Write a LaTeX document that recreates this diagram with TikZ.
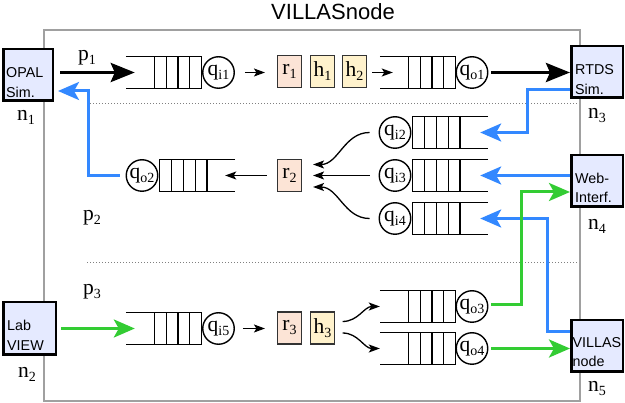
\documentclass[tikz,border=0pt]{standalone}
\usepackage{fontspec}
\setmainfont{Liberation Serif}
\newfontfamily\sansf{Liberation Sans}
\usetikzlibrary{arrows.meta,calc}

\definecolor{vblue}{RGB}{51,136,255}
\definecolor{vgreen}{RGB}{51,204,51}
\definecolor{extfill}{RGB}{229,234,255}
\definecolor{rfill}{RGB}{252,228,214}
\definecolor{hfill}{RGB}{255,242,204}
\definecolor{framegray}{RGB}{160,160,160}

\newcommand\serifbig{\fontsize{21.5}{21.5}\selectfont}
\newcommand\qsub[1]{\raisebox{-4pt}{\fontsize{14}{14}\selectfont #1}}

\newcommand\queueR[1]{%
  \draw[qline] (#1.north west) -- (#1.north east) -- (#1.south east) -- (#1.south west);
  \foreach \k in {1,...,4}
    \draw[qline] ($(#1.north east)+(-\k*11.6,0)$) -- ($(#1.south east)+(-\k*11.6,0)$);
}
\newcommand\queueL[1]{%
  \draw[qline] (#1.north east) -- (#1.north west) -- (#1.south west) -- (#1.south east);
  \foreach \k in {1,...,4}
    \draw[qline] ($(#1.north west)+(\k*11.8,0)$) -- ($(#1.south west)+(\k*11.8,0)$);
}

\tikzset{
  qbox/.style={rectangle,minimum width=75pt,minimum height=31pt,inner sep=0pt},
  qline/.style={line width=1.2pt,black},
  qcirc/.style={circle,draw,line width=1.4pt,minimum size=31.5pt,inner sep=0pt,font=\serifbig},
  rbox/.style={rectangle,draw=black!80,line width=1.1pt,fill=rfill,minimum width=24pt,minimum height=32pt,inner sep=0pt,font=\serifbig},
  hbox/.style={rbox,fill=hfill},
  ext/.style={rectangle,draw=black,line width=2.5pt,fill=extfill,inner sep=0pt},
  exttext/.style={font=\sansf\fontsize{14.3}{19.5}\selectfont,align=left,anchor=west,inner sep=0pt},
  lbl/.style={font=\serifbig,anchor=base west,inner sep=0pt},
  thickarrow/.style={line width=3.5pt,-{Stealth[length=24pt,width=19pt,inset=4pt]}},
  bluearrow/.style={vblue,line width=3pt,-{Stealth[length=21pt,width=18pt,inset=5pt]}},
  greenarrow/.style={vgreen,line width=3pt,-{Stealth[length=21pt,width=18pt,inset=5pt]}},
  thinarrow/.style={line width=1.3pt,-{Stealth[length=11pt,width=8pt,inset=2.5pt]}},
  dotline/.style={black!50,line width=0.8pt,dash pattern=on 1.2pt off 1.8pt},
}

\begin{document}
\begin{tikzpicture}[x=1pt,y=-1pt]
\useasboundingbox (0,0) rectangle (625,403);

% title and frame
\node[anchor=base,inner sep=0pt,font=\sansf\fontsize{22}{22}\selectfont] (title) at (333,20) {VILLASnode};
\draw[framegray,line width=1.8pt] (44,30) rectangle (580,401);
\draw[dotline] (90,103) -- (578,103);
\draw[dotline] (87,262) -- (578,262);

% external nodes
\node[ext,minimum width=49.5pt,minimum height=51.5pt] (opal) at (28,75) {};
\node[ext,minimum width=51.5pt,minimum height=51.5pt] (rtds) at (597,72) {};
\node[ext,minimum width=51.5pt,minimum height=51.5pt] (web) at (597,181) {};
\node[ext,minimum width=52.5pt,minimum height=52.5pt] (labview) at (29.5,328.5) {};
\node[ext,minimum width=51.5pt,minimum height=51.5pt] (villas) at (597,346) {};
\node[exttext] (opal-t) at (6,82.5) {OPAL\\Sim.};
\node[exttext] (rtds-t) at (575,79.5) {RTDS\\Sim.};
\node[exttext] (web-t) at (575,188) {Web-\\Interf.};
\node[exttext] (labview-t) at (7,335.5) {Lab\\VIEW};
\node[exttext] (villas-t) at (572.5,352) {VILLAS\\node};

% labels
\node[lbl] (n1) at (17,121) {n\qsub{1}};
\node[lbl] (n2) at (18,378) {n\qsub{2}};
\node[lbl] (n3) at (588,119) {n\qsub{3}};
\node[lbl] (n4) at (588,230) {n\qsub{4}};
\node[lbl] (n5) at (588,392) {n\qsub{5}};
\node[lbl] (p1) at (78,61) {p\qsub{1}};
\node[lbl] (p2) at (83,221) {p\qsub{2}};
\node[lbl] (p3) at (83,295) {p\qsub{3}};

% path 1
\node[qbox] (qi1q) at (163.5,72.5) {};
\queueR{qi1q}
\node[qcirc] (qi1) at (218.5,72.5) {q\qsub{i1}};
\node[rbox] (r1) at (289.5,71.5) {r\qsub{1}};
\node[hbox] (h1) at (322.5,71.5) {h\qsub{1}};
\node[hbox] (h2) at (354.5,71.5) {h\qsub{2}};
\node[qbox] (qo1q) at (417.5,72.5) {};
\queueR{qo1q}
\node[qcirc] (qo1) at (472,72.5) {q\qsub{o1}};

% path 2
\node[qcirc] (qi2) at (395,132.5) {q\qsub{i2}};
\node[qbox] (qi2q) at (450.5,132.5) {};
\queueL{qi2q}
\node[qcirc] (qi3) at (395,175.5) {q\qsub{i3}};
\node[qbox] (qi3q) at (450.5,175.5) {};
\queueL{qi3q}
\node[qcirc] (qi4) at (395,218.5) {q\qsub{i4}};
\node[qbox] (qi4q) at (450.5,218.5) {};
\queueL{qi4q}
\node[rbox] (r2) at (289.5,175.5) {r\qsub{2}};
\node[qcirc] (qo2) at (142,175.5) {q\qsub{o2}};
\node[qbox] (qo2q) at (197.5,175.5) {};
\queueL{qo2q}

% path 3
\node[qbox] (qi5q) at (163.5,328.5) {};
\queueR{qi5q}
\node[qcirc] (qi5) at (218.5,328.5) {q\qsub{i5}};
\node[rbox] (r3) at (289.5,328) {r\qsub{3}};
\node[hbox] (h3) at (322.5,328) {h\qsub{3}};
\node[qbox] (qo3q) at (417.5,306.5) {};
\queueR{qo3q}
\node[qcirc] (qo3) at (472,306.5) {q\qsub{o3}};
\node[qbox] (qo4q) at (417.5,348.5) {};
\queueR{qo4q}
\node[qcirc] (qo4) at (472,348.5) {q\qsub{o4}};

% connectors path 1
\draw[thickarrow] ($(opal.east |- qi1q.west)+(6,0)$) -- ($(qi1q.west)+(9,0)$);
\draw[thinarrow] ($(qi1.east)+(10,0)$) -- ($(qi1.east -| r1.west)+(-12,0)$);
\draw[thinarrow] ($(h2.east |- qo1q.west)+(5,0)$) -- ($(qo1q.west)+(13,0)$);
\draw[thickarrow] ($(qo1.east)+(3,0)$) -- (rtds.west |- qo1.east);

% connectors path 2
\draw[thinarrow] ($(qi2.west)+(-9,0)$) to[out=180,in=0] ($(r2.east)+(11,-11)$);
\draw[thinarrow] ($(qi3.west)+(-9,0)$) -- ($(r2.east)+(11,0)$);
\draw[thinarrow] ($(qi4.west)+(-9,0)$) to[out=180,in=0] ($(r2.east)+(11,11.5)$);
\draw[thinarrow] ($(r2.west)+(-10,0)$) -- ($(qo2q.east)+(-10,0)$);
\draw[bluearrow] ($(qo2.west)+(-6,0)$) -- ++(-31,0) |- ($(opal.east)+(4,16)$);
\draw[bluearrow] ($(rtds.west)+(0,18)$) -| ($(qi2q.east)+(39,0)$) -- ($(qi2q.east)+(-8,0)$);
\draw[bluearrow] (web.west |- qi3q.east) -- ($(qi3q.east)+(-8,0)$);
\draw[bluearrow] ($(villas.west)+(0,-14)$) -| ($(qi4q.east)+(59,0)$) -- ($(qi4q.east)+(-8,0)$);

% connectors path 3
\draw[greenarrow] ($(labview.east |- qi5q.west)+(4,0)$) -- ($(qi5q.west)+(9,0)$);
\draw[thinarrow] ($(qi5.east)+(8,0)$) -- ($(qi5.east -| r3.west)+(-12,0)$);
\draw[thinarrow] ($(h3.east)+(7.5,-6.5)$) to[out=0,in=180] (qo3q.west);
\draw[thinarrow] ($(h3.east)+(7.5,5)$) to[out=0,in=180] (qo4q.west);
\draw[greenarrow] ($(qo3.east)+(3,-1.5)$) -- ++(30,0) |- ($(web.west)+(0,11)$);
\draw[greenarrow] ($(qo4.east)+(3,0)$) -- (villas.west |- qo4.east);
\end{tikzpicture}
\end{document}
